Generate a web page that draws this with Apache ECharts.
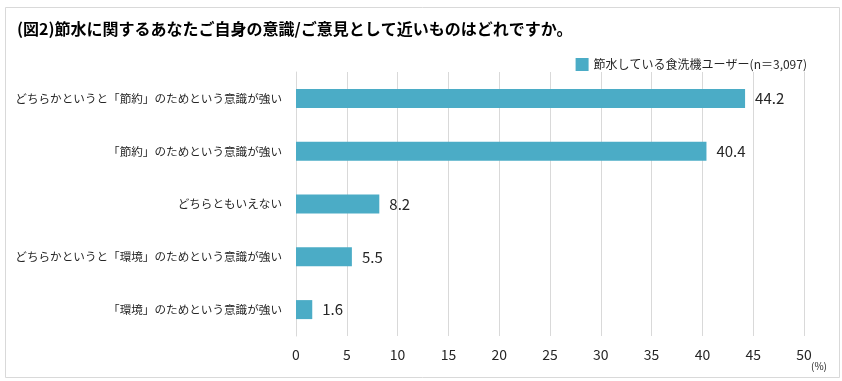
<!DOCTYPE html>
<html>
<head>
<meta charset="utf-8">
<script src="https://cdn.jsdelivr.net/npm/echarts@6/dist/echarts.min.js"></script>
<style>
html,body{margin:0;padding:0;background:#fff;}
#chart{width:842px;height:381px;}
</style>
</head>
<body>
<div id="chart"></div>
<script>
const titleText = '(図2)節水に関するあなたご自身の意識/ご意見として近いものはどれですか。';
const seriesName = '節水している食洗機ユーザー(n＝3,097)';
const categories = [
  'どちらかというと「節約」のためという意識が強い',
  '「節約」のためという意識が強い',
  'どちらともいえない',
  'どちらかというと「環境」のためという意識が強い',
  '「環境」のためという意識が強い'
];
const values = [44.2, 40.4, 8.2, 5.5, 1.6];
const xMin = 0, xMax = 50, xStep = 5;
const unitLabel = '(%)';

const font = '"Noto Sans CJK JP", "Noto Sans", sans-serif';
const chart = echarts.init(document.getElementById('chart'), null, {renderer: 'canvas'});
chart.setOption({
  backgroundColor: '#fff',
  animation: false,
  textStyle: {fontFamily: font},
  title: {
    text: titleText,
    left: 12, top: 16,
    textStyle: {fontFamily: font, fontSize: 16, fontWeight: 'bold', color: '#000'}
  },
  legend: {
    data: [seriesName],
    right: 30, top: 53,
    icon: 'rect', itemWidth: 13, itemHeight: 13, itemGap: 8,
    textStyle: {fontFamily: font, fontSize: 12, color: '#262626'}
  },
  grid: {left: 296, right: 38, top: 72, bottom: 45, containLabel: false},
  xAxis: {
    type: 'value', min: xMin, max: xMax, interval: xStep,
    axisLine: {show: false}, axisTick: {show: false},
    splitLine: {show: true, lineStyle: {color: '#d9d9d9', width: 1}},
    axisLabel: {fontFamily: font, fontSize: 14, color: '#262626', margin: 12}
  },
  yAxis: {
    type: 'category', data: categories, inverse: true,
    axisLine: {show: true, lineStyle: {color: '#d9d9d9'}},
    axisTick: {show: false},
    axisLabel: {fontFamily: font, fontSize: 11.6, color: '#262626', margin: 14}
  },
  series: [{
    name: seriesName, type: 'bar', data: values,
    barWidth: 19,
    itemStyle: {color: '#4BACC6'},
    label: {
      show: true, position: 'right', distance: 10,
      fontFamily: font, fontSize: 15, color: '#262626',
      formatter: p => p.value.toFixed(1)
    }
  }],
  graphic: [
    {type: 'rect', left: 3, top: 5, shape: {width: 834, height: 370},
     style: {fill: 'none', stroke: '#d9d9d9', lineWidth: 1}, silent: true, z: -1},
    {type: 'text', left: 811, top: 361,
     style: {text: unitLabel, fontFamily: font, fontSize: 10, fill: '#262626'}}
  ]
});
</script>
</body>
</html>
